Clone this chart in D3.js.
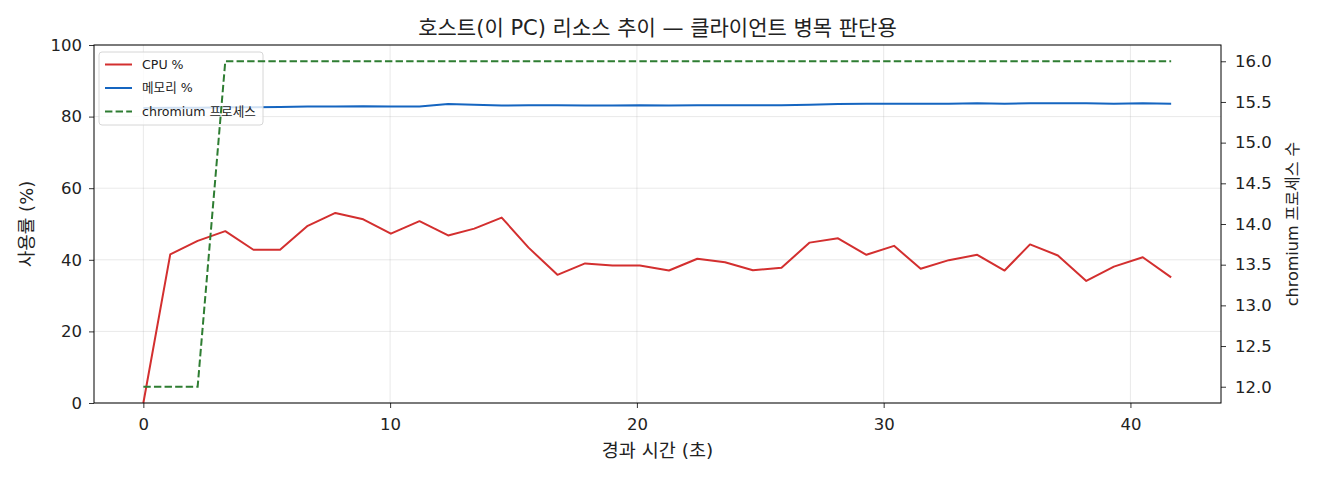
<!DOCTYPE html>
<html>
<head>
<meta charset="utf-8">
<script src="https://cdn.jsdelivr.net/npm/d3@7/dist/d3.min.js"></script>
<style>
    body { margin: 0; background: #fff; }
    text { font-family: "DejaVu Sans", "Noto Sans CJK KR", sans-serif; fill: #222; }
</style>
</head>
<body>
<svg id="chart"></svg>
<script>
// elapsed seconds for each sample
var times = [0, 1.09, 2.20, 3.32, 4.46, 5.54, 6.66, 7.78, 8.91, 10.03,
    11.19, 12.35, 13.41, 14.52, 15.61, 16.78, 17.90, 19.01, 20.12, 21.30,
    22.45, 23.57, 24.70, 25.86, 27.00, 28.15, 29.30, 30.42, 31.50, 32.64,
    33.79, 34.90, 35.93, 37.06, 38.21, 39.33, 40.50, 41.65];

var cpu = [0, 41.5, 45.3, 48.0, 42.8, 42.8, 49.5, 53.1, 51.3, 47.3,
    50.8, 46.8, 48.7, 51.8, 43.4, 35.8, 39.0, 38.4, 38.4, 37.0,
    40.3, 39.3, 37.1, 37.8, 44.8, 46.0, 41.4, 43.9, 37.5, 39.9,
    41.4, 37.0, 44.3, 41.2, 34.1, 38.1, 40.7, 35.1];

var memory = [82.4, 82.5, 82.5, 82.6, 82.6, 82.7, 82.8, 82.8, 82.9, 82.8,
    82.8, 83.5, 83.3, 83.1, 83.2, 83.2, 83.1, 83.1, 83.2, 83.1,
    83.2, 83.2, 83.2, 83.2, 83.3, 83.5, 83.6, 83.6, 83.6, 83.6,
    83.7, 83.6, 83.7, 83.7, 83.7, 83.6, 83.7, 83.6];

var procs = [12, 12, 12, 16, 16, 16, 16, 16, 16, 16,
    16, 16, 16, 16, 16, 16, 16, 16, 16, 16,
    16, 16, 16, 16, 16, 16, 16, 16, 16, 16,
    16, 16, 16, 16, 16, 16, 16, 16];

var xTicks = [0, 10, 20, 30, 40];
var yTicks = [0, 20, 40, 60, 80, 100];
var y2Ticks = [12.0, 12.5, 13.0, 13.5, 14.0, 14.5, 15.0, 15.5, 16.0];
var xLimits = [-2.0, 43.67];
var yLimits = [0, 100];
var y2Limits = [11.8, 16.2];

var seriesNames = ["CPU %", "메모리 %", "chromium 프로세스"];
var colors = ["#d32f2f", "#1565c0", "#2e7d32"];

var W = 1320, H = 480;
var padL = 94, padR = 1221, padT = 45, padB = 403;

var svg = d3.select("#chart")
    .attr("width", W)
    .attr("height", H);

var x = d3.scaleLinear().domain(xLimits).range([padL, padR]);
var y = d3.scaleLinear().domain(yLimits).range([padB, padT]);
var y2 = d3.scaleLinear().domain(y2Limits).range([padB, padT]);

var rows = times.map(function (t, i) {
    return { t: t, cpu: cpu[i], mem: memory[i], proc: procs[i] };
});

// grid
svg.append("g")
    .selectAll("line.vgrid")
    .data(xTicks)
    .enter()
    .append("line")
    .attr("x1", function (d) { return x(d); })
    .attr("x2", function (d) { return x(d); })
    .attr("y1", padT)
    .attr("y2", padB)
    .attr("stroke", "#b0b0b0")
    .attr("stroke-opacity", 0.35)
    .attr("stroke-width", 0.8);

svg.append("g")
    .selectAll("line.hgrid")
    .data(yTicks)
    .enter()
    .append("line")
    .attr("x1", padL)
    .attr("x2", padR)
    .attr("y1", function (d) { return y(d); })
    .attr("y2", function (d) { return y(d); })
    .attr("stroke", "#b0b0b0")
    .attr("stroke-opacity", 0.35)
    .attr("stroke-width", 0.8);

// axes
function styleAxis(g) {
    g.select(".domain").remove();
    g.selectAll(".tick line").attr("stroke", "#000").attr("stroke-width", 0.8);
    g.selectAll(".tick text")
        .attr("font-size", "16.5px")
        .attr("fill", "#222")
        .style("font-family", "'DejaVu Sans', sans-serif");
}

svg.append("g")
    .attr("transform", "translate(0," + padB + ")")
    .call(d3.axisBottom(x).tickValues(xTicks).tickSize(5).tickPadding(10).tickFormat(d3.format("d")))
    .call(styleAxis);

svg.append("g")
    .attr("transform", "translate(" + padL + ",0)")
    .call(d3.axisLeft(y).tickValues(yTicks).tickSize(5).tickPadding(7).tickFormat(d3.format("d")))
    .call(styleAxis);

svg.append("g")
    .attr("transform", "translate(" + padR + ",0)")
    .call(d3.axisRight(y2).tickValues(y2Ticks).tickSize(5).tickPadding(9).tickFormat(d3.format(".1f")))
    .call(styleAxis);

// lines on the left axis
var lineCpu = d3.line()
    .x(function (d) { return x(d.t); })
    .y(function (d) { return y(d.cpu); });
var lineMem = d3.line()
    .x(function (d) { return x(d.t); })
    .y(function (d) { return y(d.mem); });
var lineProc = d3.line()
    .x(function (d) { return x(d.t); })
    .y(function (d) { return y2(d.proc); });

svg.append("path")
    .datum(rows)
    .attr("d", lineCpu)
    .attr("fill", "none")
    .attr("stroke", colors[0])
    .attr("stroke-width", 2)
    .attr("stroke-linejoin", "round");

svg.append("path")
    .datum(rows)
    .attr("d", lineMem)
    .attr("fill", "none")
    .attr("stroke", colors[1])
    .attr("stroke-width", 2)
    .attr("stroke-linejoin", "round");

// legend (belongs to the left axis, so the dashed line goes over it)
var lg = svg.append("g");
lg.append("rect")
    .attr("x", 99)
    .attr("y", 52)
    .attr("width", 164)
    .attr("height", 73)
    .attr("rx", 3)
    .attr("fill", "#fff")
    .attr("fill-opacity", 0.8)
    .attr("stroke", "#d6d6d6")
    .attr("stroke-width", 1);

lg.selectAll("line.key")
    .data(seriesNames)
    .enter()
    .append("line")
    .attr("x1", 105)
    .attr("x2", 132)
    .attr("y1", function (d, i) { return 64.5 + i * 23.5; })
    .attr("y2", function (d, i) { return 64.5 + i * 23.5; })
    .attr("stroke", function (d, i) { return colors[i]; })
    .attr("stroke-width", 2)
    .attr("stroke-dasharray", function (d, i) { return i == 2 ? "7.4,3.2" : null; });

lg.selectAll("text.key")
    .data(seriesNames)
    .enter()
    .append("text")
    .text(function (d) { return d; })
    .attr("x", 142)
    .attr("y", function (d, i) { return 64.5 + i * 23.5; })
    .attr("dy", "0.35em")
    .attr("font-size", "12.6px");

// process count on the right axis
svg.append("path")
    .datum(rows)
    .attr("d", lineProc)
    .attr("fill", "none")
    .attr("stroke", colors[2])
    .attr("stroke-width", 2)
    .attr("stroke-dasharray", "7.4,3.2");

// frame
svg.append("rect")
    .attr("x", padL)
    .attr("y", padT)
    .attr("width", padR - padL)
    .attr("height", padB - padT)
    .attr("fill", "none")
    .attr("stroke", "#000")
    .attr("stroke-width", 1);

// titles
svg.append("text")
    .text("호스트(이 PC) 리소스 추이 — 클라이언트 병목 판단용")
    .attr("x", (padL + padR) / 2)
    .attr("y", 28)
    .attr("dy", "0.35em")
    .attr("text-anchor", "middle")
    .attr("font-size", "21px");

svg.append("text")
    .text("경과 시간 (초)")
    .attr("x", (padL + padR) / 2)
    .attr("y", 451)
    .attr("dy", "0.35em")
    .attr("text-anchor", "middle")
    .attr("font-size", "18.5px");

svg.append("text")
    .text("사용률 (%)")
    .attr("transform", "translate(27," + (padT + padB) / 2 + ") rotate(-90)")
    .attr("dy", "0.35em")
    .attr("text-anchor", "middle")
    .attr("font-size", "18px");

svg.append("text")
    .text("chromium 프로세스 수")
    .attr("transform", "translate(1292," + (padT + padB) / 2 + ") rotate(-90)")
    .attr("dy", "0.35em")
    .attr("text-anchor", "middle")
    .attr("font-size", "16px");
</script>
</body>
</html>
